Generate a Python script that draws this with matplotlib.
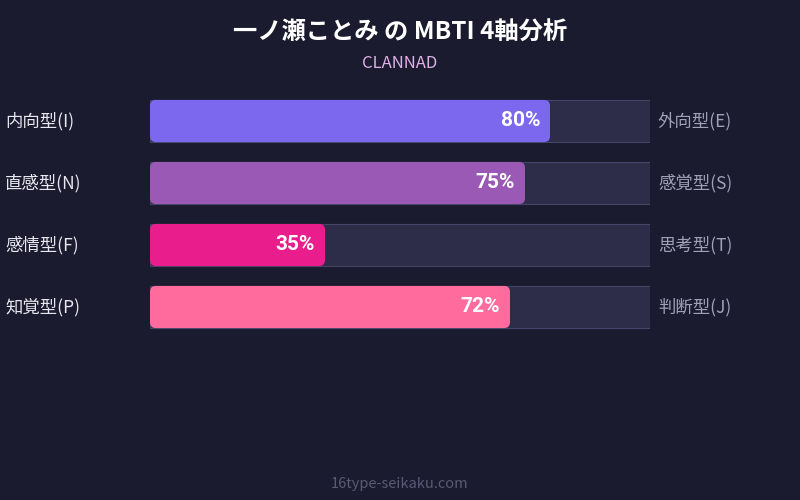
import matplotlib
matplotlib.use("Agg")
import matplotlib.pyplot as plt
from matplotlib.patches import FancyBboxPatch

plt.rcParams['font.family'] = ['Noto Sans CJK JP', 'DejaVu Sans']

left_labels = ["内向型(I)", "直感型(N)", "感情型(F)", "知覚型(P)"]
right_labels = ["外向型(E)", "感覚型(S)", "思考型(T)", "判断型(J)"]
values = [80, 75, 35, 72]
colors = ["#7b68ee", "#9b59b6", "#e91e8c", "#ff6b9d"]

bg = "#1a1b2e"
fig = plt.figure(figsize=(8, 5), dpi=100, facecolor=bg)
ax = fig.add_axes([150/800, 1-338/500, 500/800, 248/500])
ax.set_facecolor(bg)
ax.set_xlim(0, 100)
ax.set_ylim(3.5, -0.5)
ax.axis('off')

h = 0.68
for i, (l, r, v, c) in enumerate(zip(left_labels, right_labels, values, colors)):
    ax.barh(i, 100, height=h, color="#2d2d4a", edgecolor="#45456a", linewidth=0.8)
    p = FancyBboxPatch((0, i-h/2), v, h, boxstyle="round,pad=0,rounding_size=1.2",
                       mutation_aspect=0.08, facecolor=c, edgecolor='none')
    ax.add_patch(p)
    ax.text(v-2, i, f"{v}%", ha='right', va='center', color='white',
            fontsize=15, fontweight='bold', family=['Roboto', 'DejaVu Sans'])
    ax.text(-29, i, l, ha='left', va='center', color='#e8e8f0', fontsize=12.5)
    ax.text(101.6, i, r, ha='left', va='center', color='#a0a0b8', fontsize=12.5)

fig.text(0.5, 1-33/500, "一ノ瀬ことみ の MBTI 4軸分析", ha='center', va='center',
         color='white', fontsize=17.5, fontweight='bold')
fig.text(0.5, 1-64/500, "CLANNAD", ha='center', va='center', color='#e0b0e8', fontsize=12)
fig.text(0.5, 1-484/500, "16type-seikaku.com", ha='center', va='center', color='#5a5a78', fontsize=10.5)

fig.savefig("out.png", dpi=100, facecolor=bg)
